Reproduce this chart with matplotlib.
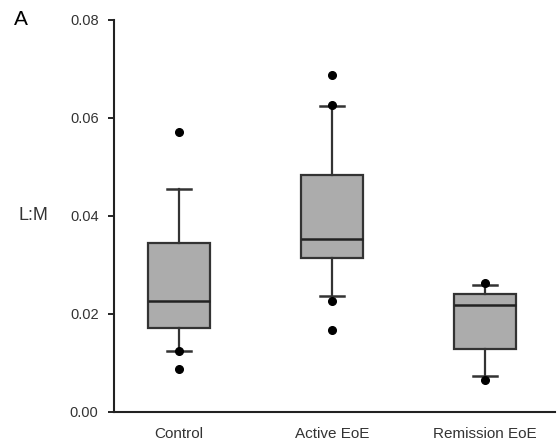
import numpy as np
import matplotlib.pyplot as plt

# Values (L:M ratio)
groups = ["Control", "Active EoE", "Remission EoE"]
q1 = [0.0171, 0.0313, 0.0129]
median = [0.0227, 0.0352, 0.0218]
q3 = [0.0345, 0.0484, 0.0240]
whislo = [0.0125, 0.0237, 0.0073]
whishi = [0.0455, 0.0625, 0.0259]
fliers = [
    [0.0571, 0.0125, 0.0088],
    [0.0688, 0.0626, 0.0227, 0.0167],
    [0.0263, 0.0065],
]

plt.rcParams['font.family'] = ['Liberation Sans', 'DejaVu Sans']

fig = plt.figure(figsize=(5.58, 4.40), dpi=100)
ax = fig.add_axes([0.204, 0.064, 0.791, 0.891])

stats = []
for i, g in enumerate(groups):
    stats.append(dict(label=g, q1=q1[i], med=median[i], q3=q3[i],
                      whislo=whislo[i], whishi=whishi[i], fliers=fliers[i]))

edge = "#333333"
ax.bxp(stats, positions=range(len(groups)), widths=0.405, capwidths=0.16,
       patch_artist=True, showfliers=True,
       boxprops=dict(facecolor="#acacac", edgecolor=edge, linewidth=1.6),
       medianprops=dict(color="#222222", linewidth=1.8),
       whiskerprops=dict(color=edge, linewidth=1.6),
       capprops=dict(color=edge, linewidth=1.8),
       flierprops=dict(marker="o", markerfacecolor="black", markeredgecolor="black",
                       markersize=5.5, linestyle="none"))

ax.set_xlim(-0.425, 2.457)
ax.set_ylim(0, 0.08)
ax.set_yticks([0.0, 0.02, 0.04, 0.06, 0.08])
ax.set_yticklabels(["0.00", "0.02", "0.04", "0.06", "0.08"])
ax.tick_params(axis='y', direction='out', length=4, width=1.2, labelsize=10.5, pad=7,
               labelcolor="#333333")
ax.tick_params(axis='x', length=0, labelsize=11, pad=11, labelcolor="#333333")

for s in ["top", "right"]:
    ax.spines[s].set_visible(False)
for s in ["left", "bottom"]:
    ax.spines[s].set_linewidth(1.5)
    ax.spines[s].set_color("#222222")

ax.set_ylabel("L:M", rotation=0, fontsize=13, labelpad=26, va="center", color="#333333")
fig.text(0.025, 0.955, "A", fontsize=15, va="center", ha="left")

fig.savefig("out.png", dpi=100)
